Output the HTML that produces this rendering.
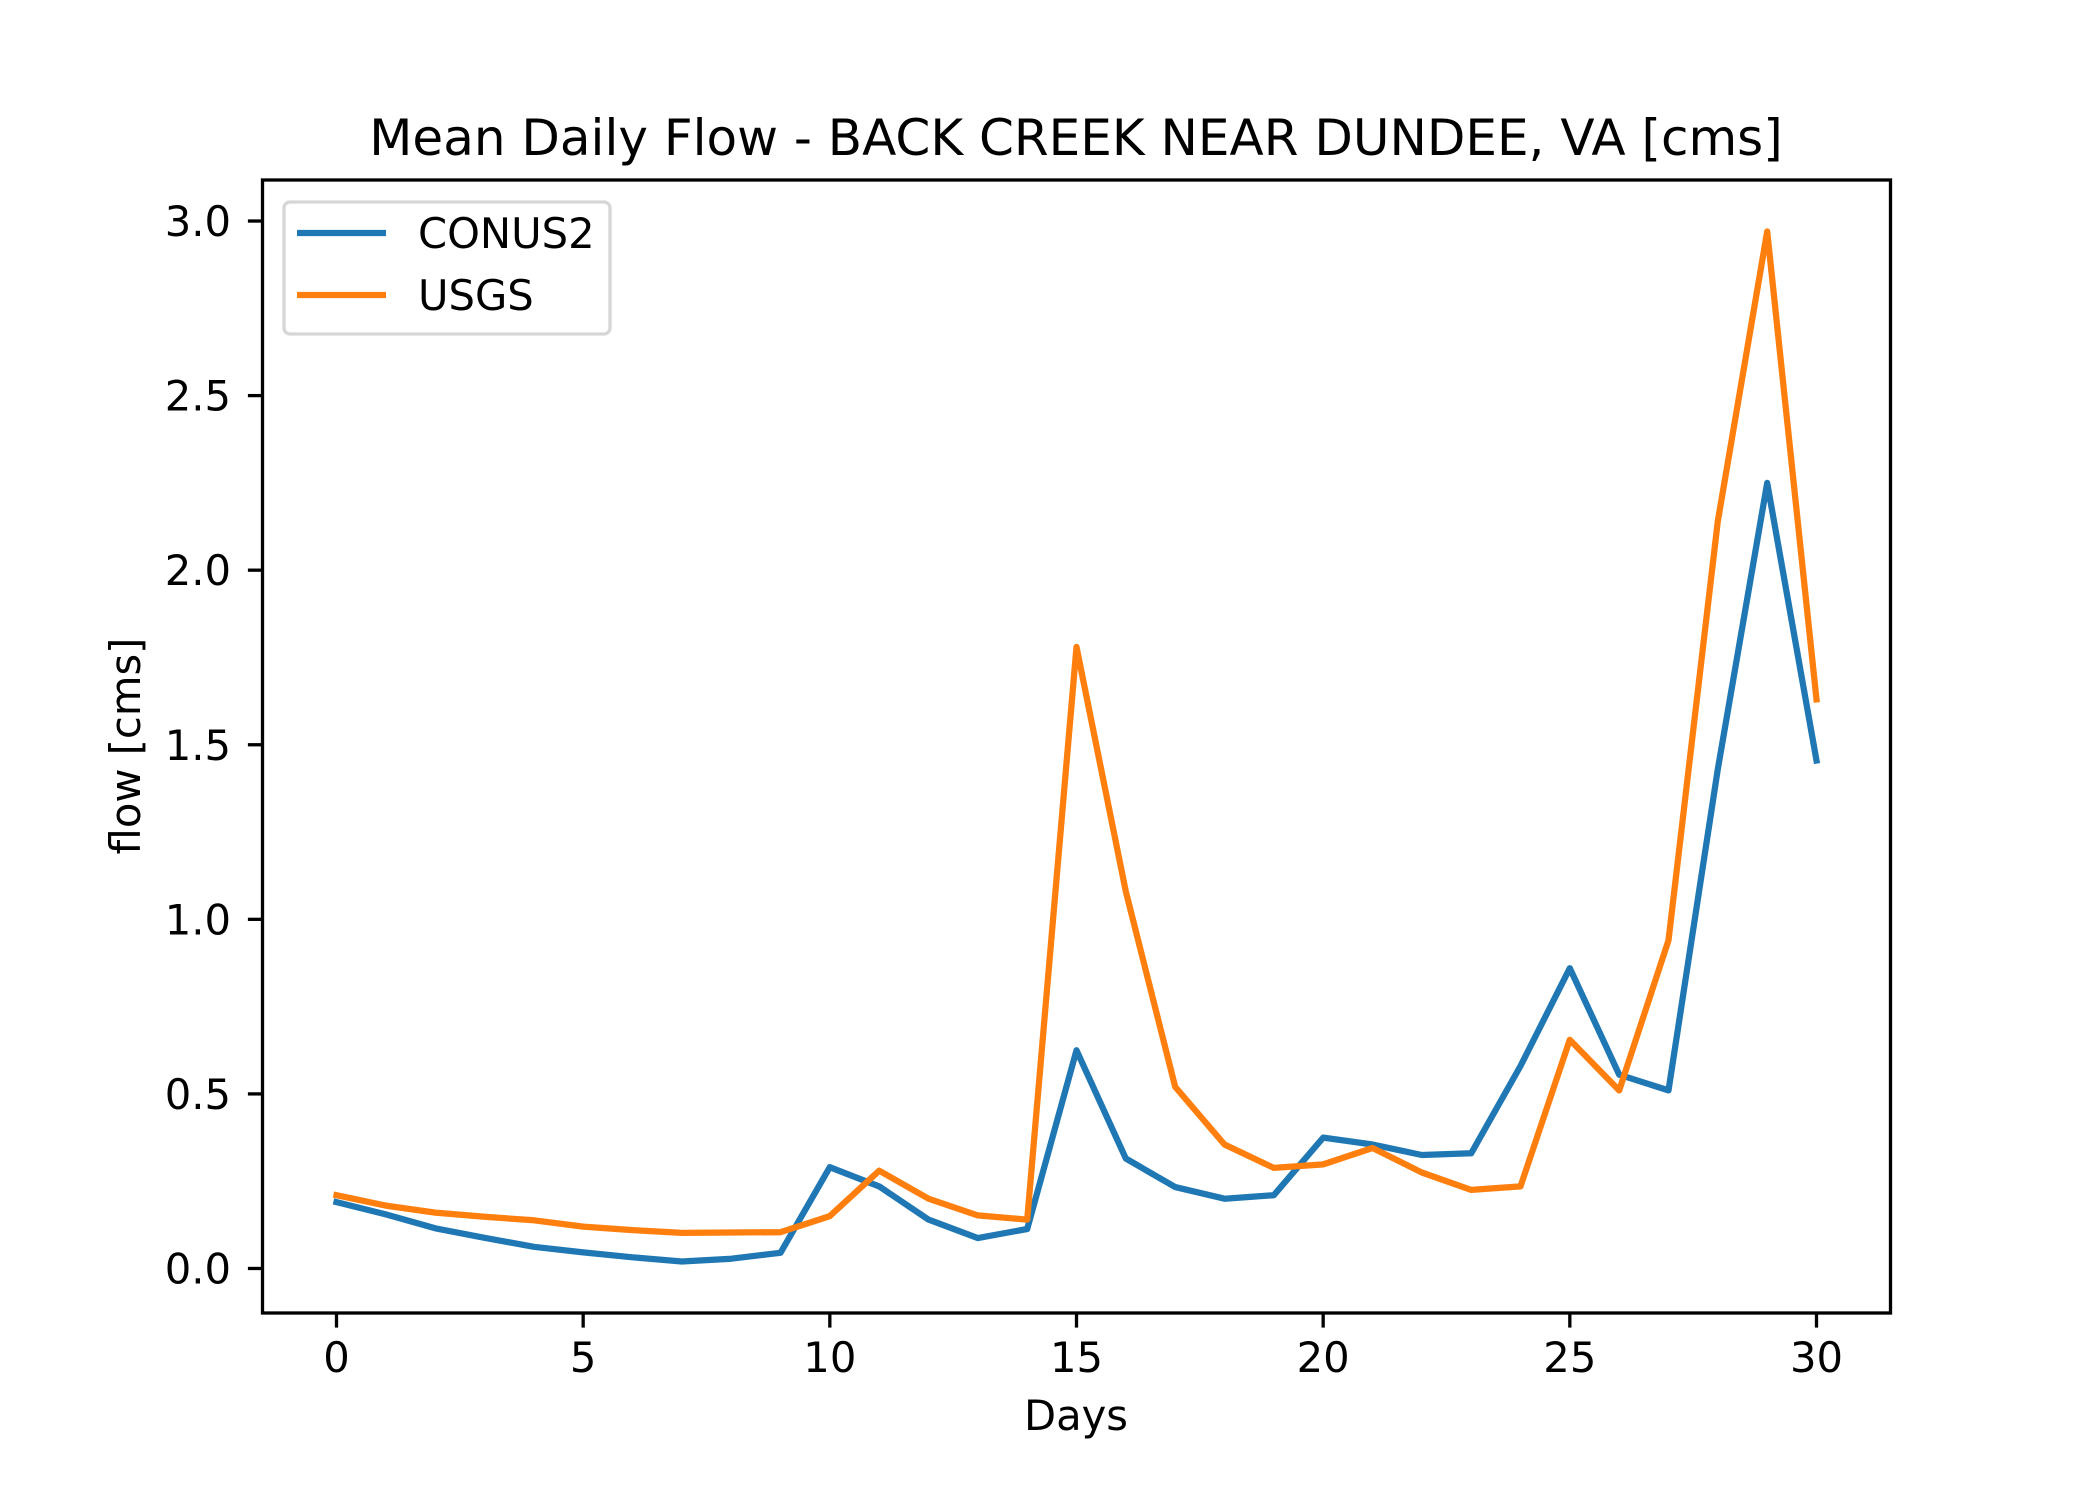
<!DOCTYPE html>
<html><head><meta charset="utf-8"><style>
html,body{margin:0;padding:0;background:#fff;}
svg{display:block;font-family:"DejaVu Sans","Liberation Sans",sans-serif;}
</style></head><body>
<svg id="chart" width="2100" height="1500" viewBox="0 0 2100 1500" xmlns="http://www.w3.org/2000/svg">
<rect width="2100" height="1500" fill="#fff"/>
<text x="1076" y="155" font-size="50" text-anchor="middle">Mean Daily Flow - BACK CREEK NEAR DUNDEE, VA [cms]</text>
<text x="1076" y="1430" font-size="41.7" text-anchor="middle">Days</text>
<text transform="translate(140,746) rotate(-90)" font-size="41.7" text-anchor="middle">flow [cms]</text>
<g id="series"></g>
<g id="axes"></g>
<rect x="262.5" y="180" width="1628" height="1133" fill="none" stroke="#000" stroke-width="3.3"/>
<g>
<rect x="284" y="202" width="326" height="132" rx="6" fill="#fff" fill-opacity="0.8" stroke="#d6d6d6" stroke-width="3.3"/>
<line x1="297" y1="233" x2="386" y2="233" stroke="#1f77b4" stroke-width="6.25"/>
<text x="418" y="248" font-size="41.7">CONUS2</text>
<line x1="297" y1="295" x2="386" y2="295" stroke="#ff7f0e" stroke-width="6.25"/>
<text x="418" y="310" font-size="41.7">USGS</text>
</g>
</svg>
<script>
const days = [0,1,2,3,4,5,6,7,8,9,10,11,12,13,14,15,16,17,18,19,20,21,22,23,24,25,26,27,28,29,30];
const conus2 = [0.19,0.155,0.115,0.088,0.062,0.046,0.032,0.02,0.028,0.045,0.29,0.235,0.14,0.087,0.113,0.625,0.315,0.233,0.2,0.21,0.375,0.355,0.325,0.33,0.58,0.86,0.555,0.51,1.43,2.25,1.455];
const usgs = [0.21,0.18,0.16,0.148,0.138,0.12,0.11,0.102,0.103,0.104,0.15,0.28,0.2,0.152,0.14,1.78,1.08,0.52,0.355,0.288,0.298,0.345,0.275,0.225,0.235,0.655,0.51,0.94,2.14,2.97,1.63];
const xTicks = [0,5,10,15,20,25,30];
const yTicks = [0,0.5,1,1.5,2,2.5,3];
const yTickLabels = ["0.0","0.5","1.0","1.5","2.0","2.5","3.0"];

const NS = "http://www.w3.org/2000/svg";
const X0 = 262.5, X1 = 1890.5, Y0 = 1313, Y1 = 180;
const allV = conus2.concat(usgs);
const xmin = Math.min(...days), xmax = Math.max(...days);
const vmin = Math.min(...allV), vmax = Math.max(...allV);
const xpad = (xmax - xmin) * 0.05, ypad = (vmax - vmin) * 0.05;
const xLo = xmin - xpad, xHi = xmax + xpad, yLo = vmin - ypad, yHi = vmax + ypad;
function xs(v){ return X0 + (v - xLo) / (xHi - xLo) * (X1 - X0); }
function ys(v){ return Y0 - (v - yLo) / (yHi - yLo) * (Y0 - Y1); }

const axes = document.getElementById('axes');
xTicks.forEach(t => {
  const l = document.createElementNS(NS, 'line');
  l.setAttribute('x1', xs(t)); l.setAttribute('x2', xs(t));
  l.setAttribute('y1', Y0); l.setAttribute('y2', Y0 + 14.6);
  l.setAttribute('stroke', '#000'); l.setAttribute('stroke-width', '3.3');
  
  
  axes.appendChild(l);
  const tx = document.createElementNS(NS, 'text');
  tx.setAttribute('x', xs(t)); tx.setAttribute('y', 1372);
  tx.setAttribute('font-size', '41.7'); tx.setAttribute('text-anchor', 'middle');
  tx.textContent = String(t);
  
  
  axes.appendChild(tx);
});
yTicks.forEach((t, i) => {
  const l = document.createElementNS(NS, 'line');
  l.setAttribute('x1', X0 - 14.6); l.setAttribute('x2', X0);
  l.setAttribute('y1', ys(t)); l.setAttribute('y2', ys(t));
  l.setAttribute('stroke', '#000'); l.setAttribute('stroke-width', '3.3');
  
  
  axes.appendChild(l);
  const tx = document.createElementNS(NS, 'text');
  tx.setAttribute('x', 231); tx.setAttribute('y', ys(t) + 15);
  tx.setAttribute('font-size', '41.7'); tx.setAttribute('text-anchor', 'end');
  tx.textContent = yTickLabels[i];
  
  
  axes.appendChild(tx);
});

const sg = document.getElementById('series');
function drawLine(vals, color, name){
  const p = document.createElementNS(NS, 'polyline');
  p.setAttribute('points', vals.map((v, i) => xs(days[i]).toFixed(1) + ',' + ys(v).toFixed(1)).join(' '));
  p.setAttribute('fill', 'none'); p.setAttribute('stroke', color);
  p.setAttribute('stroke-width', '6.25'); p.setAttribute('stroke-linejoin', 'round');
  p.setAttribute('stroke-linecap', 'square');
  
  
  sg.appendChild(p);
}
drawLine(conus2, '#1f77b4', 'conus2-line');
drawLine(usgs, '#ff7f0e', 'usgs-line');
</script>
</body></html>
